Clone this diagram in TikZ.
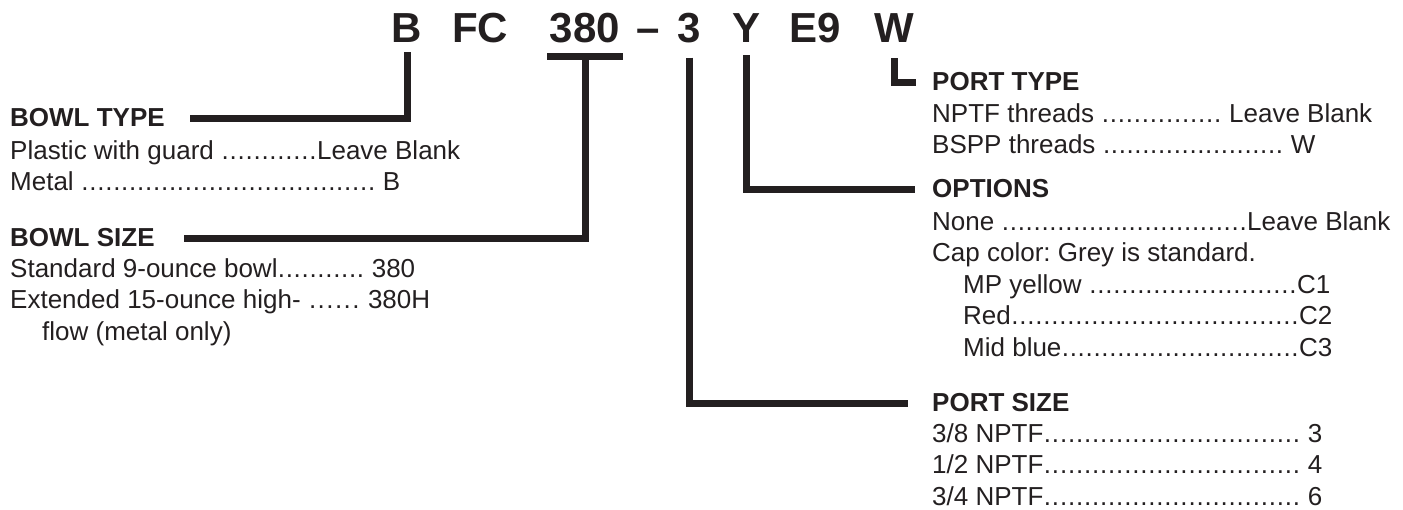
\documentclass[tikz,border=0pt]{standalone}
\usepackage{fontspec}
\setmainfont{Liberation Sans}
\usepackage{xcolor}
\usepackage{tikz}

\definecolor{ink}{HTML}{231F20}
\frenchspacing
\newcommand{\leaderdots}{\xleaders\hbox to 0.3em{\hss.\hss}\hfill}
\newcommand{\orderline}[3]{\makebox[#1pt][l]{#2\leaderdots#3}}

\begin{document}
\begin{tikzpicture}[x=1pt,y=-1pt,
  code/.style={font=\fontsize{42}{42}\selectfont\bfseries,text=ink,anchor=base,inner sep=0pt},
  head/.style={font=\fontsize{26}{26}\selectfont\bfseries,text=ink,anchor=base west,inner sep=0pt},
  body/.style={font=\fontsize{26}{31.5}\selectfont,text=ink,anchor=north west,inner sep=0pt,align=left},
  conn/.style={draw=ink,line width=7pt}]
 \useasboundingbox (0,0) rectangle (1403,510);
 % part number
 \node[code] (cB)    at (407,43) {B};
 \node[code] (cFC)   at (480,43) {FC};
 \node[code] (c380)  at (585,43) {380};
 \node[code] (cdash) at (648,43) {--};
 \node[code] (c3)    at (689,43) {3};
 \node[code] (cY)    at (746,43) {Y};
 \node[code] (cE9)   at (815,43) {E9};
 \node[code] (cW)    at (894,43) {W};
 % left column
 \node[head] (btype) at (10,127) {BOWL TYPE};
 \node[body] (btbody) at (10,140)
  {\orderline{450}{Plastic with guard }{Leave Blank}\\
   \orderline{390}{Metal }{ B}};
 \node[head] (bsize) at (10,247) {BOWL SIZE};
 \node[body] (bsbody) at (10,258)
  {\orderline{405}{Standard 9-ounce bowl}{ 380}\\
   \orderline{420}{Extended 15-ounce high- }{ 380H}\\
   \hspace*{32pt}flow (metal only)};
 % right column
 \node[head] (ptype) at (932,91) {PORT TYPE};
 \node[body] (ptbody) at (932,103)
  {\orderline{440}{NPTF threads }{ Leave Blank}\\
   \orderline{383}{BSPP threads }{ W}};
 \node[head] (opts) at (932,198) {OPTIONS};
 \node[body] (opbody) at (932,211)
  {\orderline{458}{None }{Leave Blank}\\
   Cap color: Grey is standard.\\
   \hspace*{31pt}\orderline{367}{MP yellow }{C1}\\
   \hspace*{31pt}\orderline{369}{Red}{C2}\\
   \hspace*{31pt}\orderline{369}{Mid blue}{C3}};
 \node[head] (psize) at (932,412) {PORT SIZE};
 \node[body] (psbody) at (932,423)
  {\orderline{390}{3/8 NPTF}{ 3}\\
   \orderline{390}{1/2 NPTF}{ 4}\\
   \orderline{390}{3/4 NPTF}{ 6}};
 % connectors
 \draw[conn] ([yshift=-9pt]cB.south) |- ([xshift=25pt]btype.east);
 \coordinate (bar) at ([yshift=-13pt]c380.south);
 \draw[conn] ([xshift=-38pt]bar) -- ([xshift=38pt]bar);
 \draw[conn] (bar) |- ([xshift=29pt]bsize.east);
 \draw[conn] ([yshift=-14pt]c3.south) |- ([xshift=-24pt]psize.west);
 \draw[conn] ([yshift=-12pt]cY.south) |- ([xshift=-17pt]opts.west);
 \draw[conn] ([yshift=-15pt]cW.south) |- ([xshift=-16pt]ptype.west);
\end{tikzpicture}
\end{document}
